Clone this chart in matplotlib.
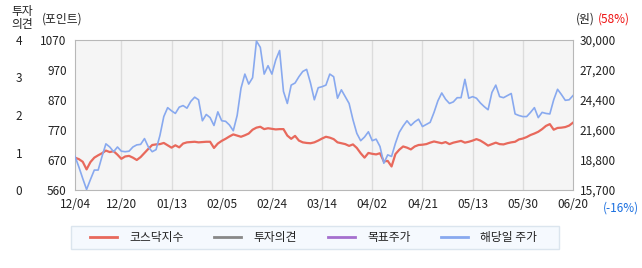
import numpy as np
import matplotlib
matplotlib.use("Agg")
import matplotlib.pyplot as plt
from matplotlib.lines import Line2D
from matplotlib.patches import Rectangle

plt.rcParams['font.family'] = ['Noto Sans CJK KR', 'DejaVu Sans']

# ---------- 데이터 ----------
tick_dates = ['12/04', '12/20', '01/13', '02/05', '02/24', '03/14',
              '04/02', '04/21', '05/13', '05/30', '06/20']
tick_idx = [0, 12, 25, 38, 51, 64, 77, 90, 103, 116, 129]

kosdaq = [670, 665, 656, 630, 655, 670, 678, 685, 694, 689,
          692, 680, 666, 674, 676, 670, 662, 672, 686, 700,
          713, 715, 716, 720, 712, 704, 712, 705, 718, 722,
          723, 724, 722, 723, 724, 724, 703, 718, 727, 734,
          742, 749, 745, 741, 746, 752, 765, 772, 775, 767,
          770, 768, 766, 767, 767, 745, 734, 744, 728, 722,
          720, 719, 722, 728, 735, 741, 738, 733, 722, 719,
          716, 710, 715, 703, 685, 670, 686, 683, 681, 685,
          657, 659, 640, 682, 697, 708, 704, 698, 708, 713,
          714, 716, 721, 725, 722, 719, 723, 716, 721, 724,
          727, 721, 724, 728, 733, 728, 720, 711, 716, 721,
          716, 715, 719, 722, 724, 732, 735, 740, 747, 752,
          758, 767, 778, 784, 765, 771, 772, 774, 779, 789]

price = [18900, 17900, 16800, 15750, 16700, 17600, 17600, 18900, 20100, 19800,
         19350, 19800, 19400, 19350, 19400, 19800, 20000, 20050, 20600, 19800,
         19350, 19550, 20900, 22700, 23550, 23250, 23000, 23600, 23750, 23500,
         24150, 24550, 24300, 22300, 22900, 22600, 21850, 23150, 22300, 22250,
         21900, 21350, 22800, 25400, 26750, 25800, 26400, 29900, 29300, 26750,
         27550, 26750, 28100, 29000, 25100, 23950, 25700, 25900, 26500, 27000,
         27200, 25900, 24300, 25450, 25550, 25700, 26750, 26500, 24450, 25250,
         24600, 23950, 22400, 21100, 20400, 20750, 21250, 20400, 20550, 19850,
         18250, 19050, 18900, 20150, 21200, 21800, 22300, 21850, 22200, 22450,
         21750, 21950, 22150, 23100, 24200, 24950, 24350, 23950, 24100, 24500,
         24500, 26250, 24450, 24600, 24450, 24000, 23650, 23350, 25000, 25700,
         24600, 24500, 24700, 24900, 22950, 22800, 22700, 22700, 23100, 23550,
         22600, 23100, 23000, 22950, 24300, 25300, 24800, 24250, 24300, 24700]

left_labels = ['560', '670', '770', '870', '970', '1070']
right_labels = ['15,700', '18,800', '21,600', '24,400', '27,200', '30,000']
opinion_labels = ['0', '1', '2', '3', '4']
legend_names = ['코스닥지수', '투자의견', '목표주가', '해당일 주가']

RED = '#e8695c'
BLUE = '#88a9ef'
GRAY = '#888888'
PURPLE = '#a56fce'
legend_colors = [RED, GRAY, PURPLE, BLUE]

W, H = 642, 268

def fx(px):
    return px / W

def fy(py):
    return 1 - py / H

# ---------- 그래프 ----------
fig = plt.figure(figsize=(6.42, 2.68), dpi=100)
ax = fig.add_axes([fx(75), fy(190), 498 / W, 150 / H])
ax.set_facecolor('#f5f5f5')
for s in ax.spines.values():
    s.set_color('#b8b8b8')

days = np.arange(len(kosdaq))
ax.plot(days, kosdaq, color=RED, lw=1.6, zorder=3)
ax.set_xlim(0, len(kosdaq) - 1)
ax.set_ylim(560, 1070)
ax.set_yticks(np.linspace(560, 1070, 6))
ax.set_yticklabels(left_labels)
ax.set_xticks(tick_idx)
ax.set_xticklabels(tick_dates)
ax.tick_params(axis='both', length=0, labelsize=8.5, colors='#222222')
ax.tick_params(axis='y', pad=6)
ax.tick_params(axis='x', pad=6)
for t in tick_idx[1:-1]:
    ax.axvline(t, color='#dcdcdc', lw=1, zorder=1)

ax2 = ax.twinx()
ax2.plot(days, price, color=BLUE, lw=1.2, zorder=2)
ax2.set_ylim(15700, 30000)
ax2.set_yticks(np.linspace(15700, 30000, 6))
ax2.set_yticklabels(right_labels)
ax2.tick_params(axis='y', length=0, labelsize=8.5, colors='#222222', pad=5)
for s in ax2.spines.values():
    s.set_visible(False)

ax3 = ax.twinx()
ax3.set_ylim(0, 4)
ax3.set_yticks(range(5))
ax3.set_yticklabels(opinion_labels)
ax3.yaxis.set_ticks_position('left')
ax3.tick_params(axis='y', length=0, labelsize=8.5, colors='#222222', pad=38)
for s in ax3.spines.values():
    s.set_visible(False)

# 머리글
fig.text(fx(22), fy(18), '투자\n의견', ha='center', va='center',
         fontsize=8.5, color='#222222', linespacing=1.0)
fig.text(fx(42), fy(19), '(포인트)', ha='left', va='center',
         fontsize=8.5, color='#222222')
fig.text(fx(576), fy(19), '(원)', ha='left', va='center',
         fontsize=8.5, color='#222222')
fig.text(fx(598), fy(19), '(58%)', ha='left', va='center',
         fontsize=8.5, color='#ee1111')
fig.text(fx(603), fy(208), '(-16%)', ha='left', va='center',
         fontsize=8.5, color='#1a6fe0')

# ---------- 범례 ----------
fig.patches.append(Rectangle((fx(71), fy(249)), 488 / W, 23 / H,
                             transform=fig.transFigure, facecolor='#f5f9fe',
                             edgecolor='#dbe5ee', lw=1))
handle_x = [90, 214, 328, 441]
for hx, c, name in zip(handle_x, legend_colors, legend_names):
    fig.add_artist(Line2D([fx(hx), fx(hx + 27)], [fy(237), fy(237)],
                          transform=fig.transFigure, color=c, lw=2))
    fig.text(fx(hx + 39), fy(237), name, ha='left', va='center',
             fontsize=8.5, color='#222222')

plt.savefig('out.png', dpi=100)
